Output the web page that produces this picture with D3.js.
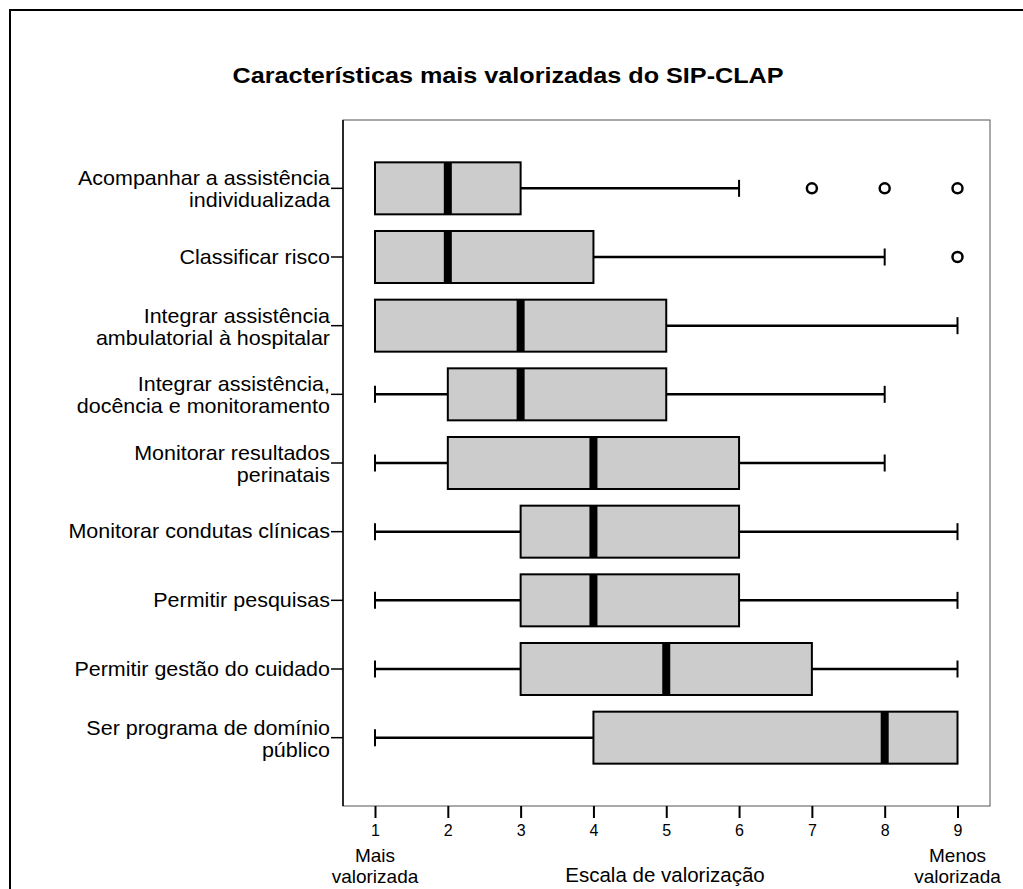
<!DOCTYPE html>
<meta charset="utf-8">
<html>
<style>
  body { margin: 0; background: #fff; }
  text { font-family: "Liberation Sans", Arial, sans-serif; fill: #000; }
</style>
<script src="https://cdn.jsdelivr.net/npm/d3@7"></script>
<body>
  <svg class="chart"></svg>
</body>
<script>
  var width = 1023;
  var height = 889;

  // categories (two-line labels split with "|")
  var categories = [
    "Acompanhar a assistência|individualizada",
    "Classificar risco",
    "Integrar assistência|ambulatorial à hospitalar",
    "Integrar assistência,|docência e monitoramento",
    "Monitorar resultados|perinatais",
    "Monitorar condutas clínicas",
    "Permitir pesquisas",
    "Permitir gestão do cuidado",
    "Ser programa de domínio|público"
  ];
  var whiskerLow = [1, 1, 1, 1, 1, 1, 1, 1, 1];
  var q1 = [1, 1, 1, 2, 2, 3, 3, 3, 4];
  var median = [2, 2, 3, 3, 4, 4, 4, 5, 8];
  var q3 = [3, 4, 5, 5, 6, 6, 6, 7, 9];
  var whiskerHigh = [6, 8, 9, 8, 8, 9, 9, 9, 9];
  var outliers = [[7, 8, 9], [9], [], [], [], [], [], [], []];
  var xTicks = [1, 2, 3, 4, 5, 6, 7, 8, 9];

  var plot = { left: 343, top: 120, right: 990, bottom: 806 };

  var svg = d3.select(".chart").attr("width", width).attr("height", height);

  // outer frame (right and bottom fall outside the picture)
  svg.append("rect")
    .attr("x", 10).attr("y", 10)
    .attr("width", width).attr("height", height)
    .attr("fill", "none").attr("stroke", "#000").attr("stroke-width", 2);

  // text a bit wider than the plain font, as in the original
  function stretched(x0, y0, sx) {
    return svg.append("text")
      .attr("transform", "translate(" + x0 + "," + y0 + ") scale(" + sx + ",1)");
  }

  stretched(508, 83, 1.145)
    .attr("text-anchor", "middle")
    .style("font-size", "22px").style("font-weight", "bold")
    .text("Características mais valorizadas do SIP-CLAP");

  var x = d3.scaleLinear().domain([1, 9]).range([375, 957.5]);
  var y = d3.scaleBand().domain(d3.range(categories.length))
    .range([154, 772]).paddingInner(0);

  // plot frame
  svg.append("rect")
    .attr("x", plot.left).attr("y", plot.top)
    .attr("width", plot.right - plot.left).attr("height", plot.bottom - plot.top)
    .attr("fill", "none").attr("stroke", "#555").attr("stroke-width", 1);

  // x axis
  var xAxis = svg.append("g")
    .attr("transform", "translate(0," + plot.bottom + ")")
    .call(d3.axisBottom(x).tickValues(xTicks).tickSize(12).tickPadding(7).tickFormat(d3.format("d")));
  xAxis.select(".domain").remove();
  xAxis.selectAll("line").attr("stroke", "#000").attr("stroke-width", 2);
  xAxis.selectAll("text").style("font-size", "16px").style("font-family", "Liberation Sans, Arial, sans-serif");

  function twoLine(cx, label) {
    var t = svg.append("text").attr("x", cx).attr("y", 862)
      .attr("text-anchor", "middle").style("font-size", "19px");
    t.append("tspan").attr("x", cx).text(label[0]);
    t.append("tspan").attr("x", cx).attr("dy", 21).text(label[1]);
  }
  twoLine(x(1), ["Mais", "valorizada"]);
  twoLine(x(9), ["Menos", "valorizada"]);

  svg.append("text")
    .attr("x", 665).attr("y", 882)
    .attr("text-anchor", "middle")
    .style("font-size", "20.5px")
    .text("Escala de valorização");

  // y axis
  var yAxis = svg.append("g")
    .attr("transform", "translate(" + plot.left + ",0)")
    .call(d3.axisLeft(y).tickSize(12).tickPadding(1).tickFormat(""));
  yAxis.select(".domain").attr("d", "M0," + plot.top + "V" + plot.bottom)
    .attr("stroke", "#000").attr("stroke-width", 1.5);
  yAxis.selectAll(".tick line").attr("stroke", "#000").attr("stroke-width", 1.5);

  categories.forEach(function(c, i) {
    var cy = y(i) + y.bandwidth() / 2;
    var parts = c.split("|");
    if (parts.length === 1) {
      stretched(330, cy + 6.5, 1.075).attr("text-anchor", "end")
        .style("font-size", "20px").text(parts[0]);
    } else {
      stretched(330, cy - 3, 1.075).attr("text-anchor", "end")
        .style("font-size", "20px").text(parts[0]);
      stretched(330, cy + 19, 1.075).attr("text-anchor", "end")
        .style("font-size", "20px").text(parts[1]);
    }
  });

  // boxes
  var boxH = 52;
  var rows = svg.append("g").selectAll("g")
    .data(categories.map(function(c, i) { return i; }))
    .enter().append("g")
    .attr("transform", function(i) { return "translate(0," + (y(i) + y.bandwidth() / 2) + ")"; });

  rows.append("line")
    .attr("x1", function(i) { return x(whiskerLow[i]); })
    .attr("x2", function(i) { return x(q1[i]); })
    .attr("stroke", "#000").attr("stroke-width", 2.5);
  rows.append("line")
    .attr("x1", function(i) { return x(q3[i]); })
    .attr("x2", function(i) { return x(whiskerHigh[i]); })
    .attr("stroke", "#000").attr("stroke-width", 2.5);
  rows.filter(function(i) { return whiskerLow[i] < q1[i]; }).append("line")
    .attr("x1", function(i) { return x(whiskerLow[i]); })
    .attr("x2", function(i) { return x(whiskerLow[i]); })
    .attr("y1", -8.5).attr("y2", 8.5)
    .attr("stroke", "#000").attr("stroke-width", 2);
  rows.filter(function(i) { return whiskerHigh[i] > q3[i]; }).append("line")
    .attr("x1", function(i) { return x(whiskerHigh[i]); })
    .attr("x2", function(i) { return x(whiskerHigh[i]); })
    .attr("y1", -8.5).attr("y2", 8.5)
    .attr("stroke", "#000").attr("stroke-width", 2);

  rows.append("rect")
    .attr("x", function(i) { return x(q1[i]); })
    .attr("y", -boxH / 2)
    .attr("width", function(i) { return x(q3[i]) - x(q1[i]); })
    .attr("height", boxH)
    .attr("fill", "#cccccc").attr("stroke", "#000").attr("stroke-width", 2);

  rows.append("rect")
    .attr("x", function(i) { return x(median[i]) - 4; })
    .attr("y", -boxH / 2)
    .attr("width", 8)
    .attr("height", boxH)
    .attr("fill", "#000");

  rows.selectAll("circle")
    .data(function(i) { return outliers[i]; })
    .enter().append("circle")
    .attr("cx", function(d) { return x(d); })
    .attr("r", 5)
    .attr("fill", "none").attr("stroke", "#000").attr("stroke-width", 2.5);
</script>
</html>
